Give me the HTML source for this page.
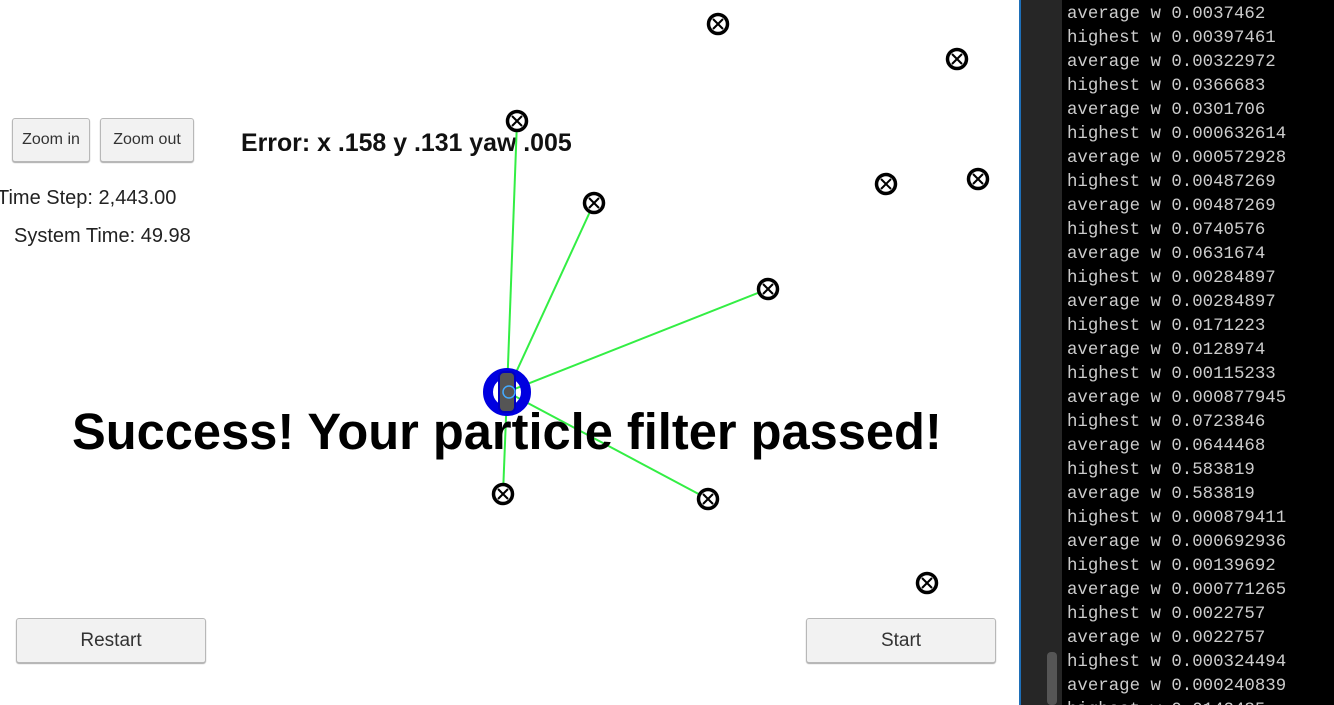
<!DOCTYPE html>
<html><head><meta charset="utf-8"><style>
body{margin:0;width:1334px;height:705px;overflow:hidden;background:#fff;position:relative;font-family:"Liberation Sans",sans-serif}
.btn{position:absolute;background:#f2f2f2;border:1px solid #b8b8b8;border-radius:3px;box-shadow:0 1px 1px #aaa;display:flex;align-items:center;justify-content:center;color:#333;box-sizing:border-box}
.lbl{position:absolute;color:#222;font-size:20px;white-space:nowrap}
#console{position:absolute;left:1062px;top:0;width:272px;height:705px;background:#000;font-family:"Liberation Mono",monospace;font-size:17.4px;color:#ccc;line-height:24px;padding-top:3px;padding-left:5px;box-sizing:border-box;white-space:pre;overflow:hidden}
</style></head><body>
<div class="btn" style="left:12px;top:118px;width:78px;height:44px;font-size:16px">Zoom in</div>
<div class="btn" style="left:100px;top:118px;width:94px;height:44px;font-size:16px">Zoom out</div>
<div class="lbl" style="left:-3px;top:187px">Time Step: 2,443.00</div>
<div class="lbl" style="left:14px;top:225px">System Time: 49.98</div>
<div class="lbl" style="left:241px;top:129px;font-weight:bold;font-size:24.9px;color:#111">Error: x .158 y .131 yaw .005</div>
<svg width="1020" height="705" style="position:absolute;left:0;top:0">
<g id="rays"></g>
<g>
<circle cx="507" cy="392" r="19" fill="none" stroke="#0000e0" stroke-width="10"/>
<rect x="499" y="372" width="16" height="40" rx="5" fill="#555" stroke="#0000c0" stroke-width="2"/>
<circle cx="509" cy="392" r="6" fill="none" stroke="#4af" stroke-width="1.5"/>
</g>
<g id="lms"></g>
</svg>
<div class="lbl" style="left:72px;top:402px;font-weight:bold;font-size:50.6px;color:#000">Success! Your particle filter passed!</div>
<div class="btn" style="left:16px;top:618px;width:190px;height:45px;font-size:19px">Restart</div>
<div class="btn" style="left:806px;top:618px;width:190px;height:45px;font-size:19px">Start</div>
<div style="position:absolute;left:1019px;top:0;width:2px;height:705px;background:#1e6fb8"></div>
<div style="position:absolute;left:1021px;top:0;width:41px;height:705px;background:#262626"></div>
<div style="position:absolute;left:1047px;top:652px;width:10px;height:53px;background:#555;border-radius:4px"></div>
<div id="console"></div>
<script>
const lmX=[718,957,517,594,886,978,768,503,708,927];
const lmY=[24,59,121,203,184,179,289,494,499,583];
const observed=[2,3,6,7,8];
const carPos=[507,392];
const ns="http://www.w3.org/2000/svg";
const rays=document.getElementById('rays'),lms=document.getElementById('lms');
observed.forEach(i=>{const l=document.createElementNS(ns,'line');


l.setAttribute('x1',carPos[0]);l.setAttribute('y1',carPos[1]);l.setAttribute('x2',lmX[i]);l.setAttribute('y2',lmY[i]);
l.setAttribute('stroke','#33ee44');l.setAttribute('stroke-width','2');rays.appendChild(l);});
lmX.forEach((x,i)=>{const y=lmY[i];const g=document.createElementNS(ns,'g');


g.innerHTML=`<circle cx="${x}" cy="${y}" r="9.5" fill="#fff" stroke="#000" stroke-width="3.5"/><line x1="${x-5}" y1="${y-5}" x2="${x+5}" y2="${y+5}" stroke="#000" stroke-width="2"/><line x1="${x+5}" y1="${y-5}" x2="${x-5}" y2="${y+5}" stroke="#000" stroke-width="2"/>`;
lms.appendChild(g);});
const logLines=["average w 0.0037462","highest w 0.00397461","average w 0.00322972","highest w 0.0366683","average w 0.0301706","highest w 0.000632614","average w 0.000572928","highest w 0.00487269","average w 0.00487269","highest w 0.0740576","average w 0.0631674","highest w 0.00284897","average w 0.00284897","highest w 0.0171223","average w 0.0128974","highest w 0.00115233","average w 0.000877945","highest w 0.0723846","average w 0.0644468","highest w 0.583819","average w 0.583819","highest w 0.000879411","average w 0.000692936","highest w 0.00139692","average w 0.000771265","highest w 0.0022757","average w 0.0022757","highest w 0.000324494","average w 0.000240839","highest w 0.0142485"];
document.getElementById('console').textContent=logLines.join("\n");
</script>
</body></html>
